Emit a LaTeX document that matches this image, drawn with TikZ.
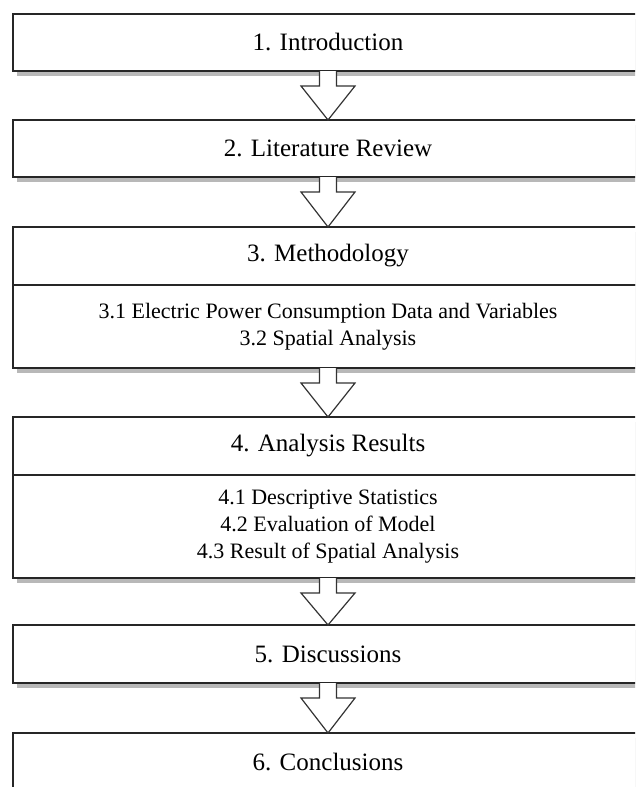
\documentclass[tikz,border=0pt]{standalone}
\usepackage{fontspec}
\setmainfont{Liberation Serif}
\usetikzlibrary{positioning,calc,shadows}

% hollow block arrow from the bottom of one box to the top of the next
\newcommand{\flowarrow}[2]{%
    \draw[flow] ($(#1.south)+(-8.5,0)$) -- ++(0,-15) -- ++(-18.5,0) -- (#2.north)
        -- ($(#1.south)+(27,-15)$) -- ++(-18.5,0) -- ($(#1.south)+(8.5,0)$);
}

\begin{document}
\begin{tikzpicture}[
            x=1pt, y=1pt,
            section/.style={rectangle, draw=black!85, line width=1.4pt, fill=white, minimum width=630pt, minimum height=57pt, outer sep=0pt, text centered, font=\fontsize{25}{29}\selectfont, drop shadow={shadow xshift=4pt, shadow yshift=-5pt, fill=black!28, opacity=1}},
            subsection/.style={section, align=center, font=\fontsize{22}{27}\selectfont},
            flow/.style={draw=black!80, line width=1.2pt, fill=white, line join=miter},
            node distance=49pt
        ]
        \useasboundingbox (0,0) rectangle (635,-787);
        \clip (0,0) rectangle (635,-787);
        % Sections
        \node[section] (intro) at (328,-42.5) {1. Introduction};
        \node[section, below=of intro] (litrev) {2. Literature Review};
        \node[section, below=50pt of litrev, minimum height=58pt] (method) {3. Methodology};
        \node[subsection, below=0pt of method, minimum height=83pt] (method_sub) {3.1 Electric Power Consumption Data and Variables\\3.2 Spatial Analysis};
        \node[section, below=of method_sub, minimum height=58pt] (results) {4. Analysis Results};
        \node[subsection, below=0pt of results, minimum height=103pt] (results_sub) {4.1 Descriptive Statistics\\4.2 Evaluation of Model\\4.3 Result of Spatial Analysis};
        \node[section, below=47pt of results_sub, minimum height=58pt] (discuss) {5. Discussions};
        \node[section, below=50pt of discuss, minimum height=58pt] (concl) {6. Conclusions};
        % Arrows
        \flowarrow{intro}{litrev}
        \flowarrow{litrev}{method}
        \flowarrow{method_sub}{results}
        \flowarrow{results_sub}{discuss}
        \flowarrow{discuss}{concl}
    \end{tikzpicture}
\end{document}
